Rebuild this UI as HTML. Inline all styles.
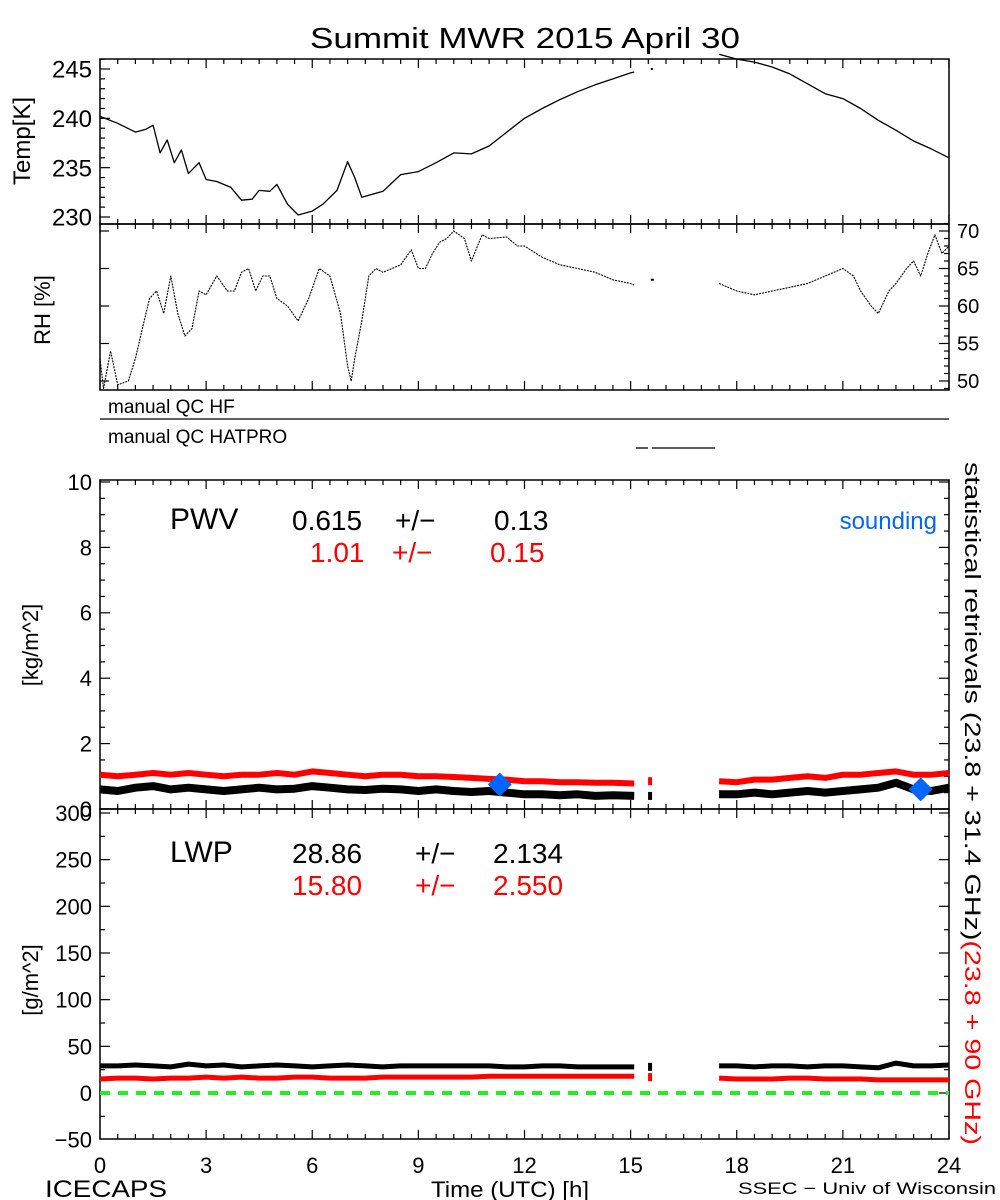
<!DOCTYPE html>
<html><head><meta charset="utf-8"><style>
html,body{margin:0;padding:0;background:#fff;}
svg{display:block;font-family:"Liberation Sans",sans-serif;}
</style></head><body>
<svg id="chart" width="1000" height="1200" viewBox="0 0 1000 1200" xmlns="http://www.w3.org/2000/svg">
<rect width="1000" height="1200" fill="#fff"/>
<text x="525" y="48" font-size="29" text-anchor="middle" textLength="430" lengthAdjust="spacingAndGlyphs">Summit MWR 2015 April 30</text>
<g id="g"></g>
</svg>
<script>
// ---- data ----
const tempHours=[0,0.5,1,1.3,1.5,1.7,1.9,2.1,2.3,2.5,2.8,3.0,3.3,3.7,4.0,4.3,4.5,4.8,5.0,5.3,5.6,6.0,6.3,6.7,7.0,7.2,7.4,8,8.5,9,9.5,10,10.5,11,11.5,12,12.5,13,13.5,14,14.5,15,15.1];
const tempVals=[240.2,239.5,238.6,238.9,239.3,236.5,237.8,235.5,236.8,234.4,235.5,233.8,233.6,233.0,231.7,231.8,232.7,232.6,233.3,231.3,230.2,230.6,231.3,232.7,235.6,234.0,232.0,232.6,234.3,234.6,235.5,236.5,236.4,237.2,238.6,240.0,241.0,241.9,242.7,243.4,244.0,244.6,244.7];
const tempHours2=[17.5,18,18.5,19,19.5,20,20.5,21,21.5,22,22.5,23,23.5,24];
const tempVals2=[246.5,246.0,245.7,245.2,244.5,243.5,242.5,242.0,241.0,239.8,238.8,237.7,236.9,236.0];
const rhHours=[0,0.1,0.3,0.5,0.8,1.0,1.2,1.4,1.6,1.8,2.0,2.2,2.4,2.6,2.8,3.0,3.3,3.6,3.8,4.0,4.2,4.4,4.6,4.8,5.0,5.3,5.6,5.9,6.2,6.5,6.8,7.0,7.1,7.2,7.4,7.6,7.8,8.0,8.5,8.8,9.0,9.2,9.4,9.6,9.8,10.0,10.3,10.5,10.8,11.0,11.5,11.8,12,12.5,13,13.5,14,14.5,15,15.1];
const rhVals=[53,49,54,49.5,50,53,57,61,62,59,64,59,56,57,62,61.5,64,62,62,64.5,65,62,64,64,61,60,58,61,65,64,59,52,50,53,58,64,65,64.5,65.5,67.5,65,65,67,68.5,69,70,69,66,69.5,69,69.2,68,68,66.5,65.5,65,64.5,63.5,63,62.8];
const rhHours2=[17.5,18,18.5,19,19.5,20,20.5,21,21.3,21.5,21.8,22,22.3,22.5,22.8,23,23.2,23.4,23.6,23.8,24];
const rhVals2=[63,62,61.5,62,62.5,63,64,65,64,62,60,59,62,63,65,66,64,67,69.5,67,68];
const pwvHours=[0,0.5,1,1.5,2,2.5,3,3.5,4,4.5,5,5.5,6,6.5,7,7.5,8,8.5,9,9.5,10,10.5,11,11.5,12,12.5,13,13.5,14,14.5,15.1];
const pwvBlack=[0.6,0.55,0.65,0.7,0.6,0.65,0.6,0.55,0.6,0.65,0.6,0.62,0.7,0.65,0.6,0.58,0.62,0.6,0.55,0.6,0.55,0.52,0.55,0.5,0.45,0.45,0.42,0.45,0.4,0.42,0.4];
const pwvRed=[1.05,1.0,1.05,1.1,1.05,1.1,1.05,1.0,1.05,1.05,1.1,1.05,1.15,1.1,1.05,1.0,1.05,1.05,1.0,1.0,0.98,0.95,0.92,0.9,0.85,0.85,0.82,0.82,0.8,0.8,0.78];
const pwvHours2=[17.5,18,18.5,19,19.5,20,20.5,21,21.5,22,22.5,23,23.5,24];
const pwvBlack2=[0.45,0.45,0.5,0.45,0.5,0.55,0.5,0.55,0.6,0.65,0.8,0.6,0.55,0.65];
const pwvRed2=[0.85,0.82,0.9,0.9,0.95,1.0,0.95,1.05,1.05,1.1,1.15,1.05,1.05,1.1];
const soundHours=[11.3,23.2];
const soundVals=[0.75,0.6];
const lwpBlack=[29,29,30,29,28,31,29,30,28,29,30,29,28,29,30,29,28,29,29,29,29,29,29,28,28,29,29,28,28,28,28];
const lwpRed=[15,16,16,15,16,16,17,16,17,16,16,17,17,16,16,16,17,17,17,17,17,17,18,18,18,18,18,18,18,18,18];
const lwpBlack2=[29,29,28,29,29,28,29,29,28,27,32,29,29,30];
const lwpRed2=[16,15,15,15,16,16,15,15,15,14,14,14,14,14];
const xTicks=[0,3,6,9,12,15,18,21,24];
const tempTicks=[230,235,240,245];
const rhTicks=[50,55,60,65,70];
const pwvTicks=[0,2,4,6,8,10];
const lwpTicks=[-50,0,50,100,150,200,250,300];

// ---- layout ----
const X0=100,X1=949;
const xs=h=>X0+(X1-X0)*h/24;
const lin=(d0,d1,p0,p1)=>v=>p0+(v-d0)*(p1-p0)/(d1-d0);
const yT=lin(230,245,217,69);
const yR=lin(50,70,381,231);
const yP=lin(0,10,809,482);
const yL=lin(0,300,1093,813);
const NS="http://www.w3.org/2000/svg";
const G=document.getElementById('g');
function el(t,a,txt){const e=document.createElementNS(NS,t);for(const k in a)e.setAttribute(k,a[k]);if(txt!==undefined)e.textContent=txt;G.appendChild(e);return e;}
function line(hs,vs,ys,color,w,name,dash){
  const d=hs.map((h,i)=>(i?'L':'M')+xs(h).toFixed(1)+','+ys(vs[i]).toFixed(1)).join('');
  const a={d:d,fill:'none',stroke:color,'stroke-width':w,'stroke-linejoin':'round'};
  if(dash)a['stroke-dasharray']=dash;
  const p=el('path',a);
  
  
}
function frame(top,bot,name){
  const r=el('rect',{x:X0,y:top,width:X1-X0,height:bot-top,fill:'none',stroke:'#000','stroke-width':1.5});
  
  
  for(let h=0;h<=24;h+=0.5){
    const big=(h%3===0);const L=big?9:5;const x=xs(h);
    el('line',{x1:x,y1:bot,x2:x,y2:bot-L,stroke:'#000','stroke-width':1.2});
    el('line',{x1:x,y1:top,x2:x,y2:top+L,stroke:'#000','stroke-width':1.2});
  }
}
function yticks(ticks,ys,top,bot,side,fs,name,minorStep){
  const xa=side==='l'?X0:X1,dir=side==='l'?1:-1;
  const lo=ticks[0],hi=ticks[ticks.length-1],st=minorStep;
  for(let v=lo-st*5;v<=hi+st*5;v+=st){const y=ys(v);if(y<top-0.5||y>bot+0.5)continue;
    const big=ticks.some(t=>Math.abs(t-v)<1e-6);
    el('line',{x1:xa,y1:y,x2:xa+dir*(big?10:5),y2:y,stroke:'#000','stroke-width':1.2});}
  ticks.forEach(t=>{const y=ys(t);
    const tx=el('text',{x:side==='l'?X0-8:X1+8,y:y+fs*0.36,'font-size':fs,'text-anchor':side==='l'?'end':'start'},String(t).replace('-','\u2212'));
    
    });
}
function stat(parts,xsPos,y,color,name){
  parts.forEach((s,i)=>{const t=el('text',{x:xsPos[i],y:y,'font-size':28,fill:color},s);
    
    });
}
// Temp panel
frame(59,224,'temp-panel');
yticks(tempTicks,yT,59,224,'l',24,'temp-tick-label',1);
line(tempHours,tempVals,yT,'#000',1.3,'temp-line');
line(tempHours2,tempVals2,yT,'#000',1.3,'temp-line-late');
el('rect',{x:xs(15.6)-1,y:yT(245)-1,width:2,height:2,fill:'#000'});
{const t=el('text',{x:30,y:141,'font-size':24,'text-anchor':'middle',transform:'rotate(-90 30 141)'},'Temp[K]');}
// RH panel
frame(224,390,'rh-panel');
yticks(rhTicks,yR,224,390,'r',20,'rh-tick-label',1);
for(let v=50;v<=70;v+=5){el('line',{x1:X0,y1:yR(v),x2:X0+9,y2:yR(v),stroke:'#000','stroke-width':1.2});}
line(rhHours,rhVals,yR,'#000',1.1,'rh-line','2 1');
line(rhHours2,rhVals2,yR,'#000',1.1,'rh-line-late','2 1');
el('rect',{x:xs(15.6)-1,y:yR(63.5)-1,width:3,height:2,fill:'#000'});
{const t=el('text',{x:50,y:310,'font-size':22,'text-anchor':'middle',transform:'rotate(-90 50 310)'},'RH [%]');}
// QC
{const t=el('text',{x:108,y:413,'font-size':19},'manual QC HF');}
el('line',{x1:X0,y1:419,x2:X1,y2:419,stroke:'#000','stroke-width':1.3});
{const t=el('text',{x:108,y:443,'font-size':19},'manual QC HATPRO');}
el('line',{x1:636,y1:448,x2:648,y2:448,stroke:'#000','stroke-width':1.3});
el('line',{x1:652,y1:448,x2:715,y2:448,stroke:'#000','stroke-width':1.3});
// PWV panel
frame(480,809,'pwv-panel');
yticks(pwvTicks,yP,480,809,'l',22,'pwv-tick-label',0.5);
for(let v=0;v<=10;v+=0.5){const y=yP(v);el('line',{x1:X1,y1:y,x2:X1-(v%2===0?10:5),y2:y,stroke:'#000','stroke-width':1.2});}
line(pwvHours,pwvRed,yP,'#f00',6,'pwv-red-series');
line(pwvHours2,pwvRed2,yP,'#f00',6,'pwv-red-series-late');
line(pwvHours,pwvBlack,yP,'#000',8,'pwv-black-series');
line(pwvHours2,pwvBlack2,yP,'#000',8,'pwv-black-series-late');
el('rect',{x:xs(15.55)-2,y:yP(0.85)-4,width:4,height:8,fill:'#f00'});
el('rect',{x:xs(15.55)-2,y:yP(0.4)-4,width:4,height:8,fill:'#000'});
soundHours.forEach((h,i)=>{const x=xs(h),y=yP(soundVals[i]);
  const p=el('path',{d:`M${x},${y-12}L${x+12},${y}L${x},${y+12}L${x-12},${y}Z`,fill:'#0066ff'});
  
  });
{const t=el('text',{x:38,y:645,'font-size':22,'text-anchor':'middle',transform:'rotate(-90 38 645)'},'[kg/m^2]');}
{const t=el('text',{x:170,y:529,'font-size':30},'PWV');}
stat(['0.615','+/\u2212','0.13'],[292,395,494],530,'#000','pwv-stat-black');
stat(['1.01','+/\u2212','0.15'],[310,392,490],562,'#f00','pwv-stat-red');
{const t=el('text',{x:937,y:529,'font-size':24,fill:'#0066ff','text-anchor':'end'},'sounding');}
// LWP panel
frame(809,1139,'lwp-panel');
yticks(lwpTicks,yL,809,1139,'l',22,'lwp-tick-label',25);
for(let v=-50;v<=300;v+=25){const y=yL(v);if(y<809||y>1139)continue;el('line',{x1:X1,y1:y,x2:X1-(v%50===0?10:5),y2:y,stroke:'#000','stroke-width':1.2});}
el('line',{x1:X0,y1:yL(0),x2:X1,y2:yL(0),stroke:'#22ee22','stroke-width':4,'stroke-dasharray':'10 8'});
line(pwvHours,lwpBlack,yL,'#000',5,'lwp-black-series');
line(pwvHours2,lwpBlack2,yL,'#000',5,'lwp-black-series-late');
line(pwvHours,lwpRed,yL,'#f00',5,'lwp-red-series');
line(pwvHours2,lwpRed2,yL,'#f00',5,'lwp-red-series-late');
el('rect',{x:xs(15.55)-2,y:yL(28)-4,width:4,height:8,fill:'#000'});
el('rect',{x:xs(15.55)-2,y:yL(17)-4,width:4,height:8,fill:'#f00'});
{const t=el('text',{x:38,y:980,'font-size':22,'text-anchor':'middle',transform:'rotate(-90 38 980)'},'[g/m^2]');}
{const t=el('text',{x:170,y:862,'font-size':30},'LWP');}
stat(['28.86','+/\u2212','2.134'],[292,415,493],863,'#000','lwp-stat-black');
stat(['15.80','+/\u2212','2.550'],[292,415,493],895,'#f00','lwp-stat-red');
// x labels
xTicks.forEach(h=>{const t=el('text',{x:xs(h),y:1173,'font-size':22,'text-anchor':'middle'},String(h));
  
  });
{const t=el('text',{x:45,y:1197,'font-size':24,textLength:122,lengthAdjust:'spacingAndGlyphs'},'ICECAPS');}
{const t=el('text',{x:510,y:1197,'font-size':22,'text-anchor':'middle',textLength:158,lengthAdjust:'spacingAndGlyphs'},'Time (UTC) [h]');}
{const t=el('text',{x:738,y:1194,'font-size':17,textLength:258,lengthAdjust:'spacingAndGlyphs'},'SSEC \u2212 Univ of Wisconsin');}
// right rotated label
{const t=el('text',{x:0,y:0,'font-size':22,transform:'translate(965 462) rotate(90)',textLength:683,lengthAdjust:'spacingAndGlyphs'});
 
 
 const a=document.createElementNS(NS,'tspan');a.textContent='statistical retrievals (23.8 + 31.4 GHz)';t.appendChild(a);
 const b=document.createElementNS(NS,'tspan');b.setAttribute('fill','#f00');b.textContent='(23.8 + 90 GHz)';t.appendChild(b);}
</script>
</body></html>
